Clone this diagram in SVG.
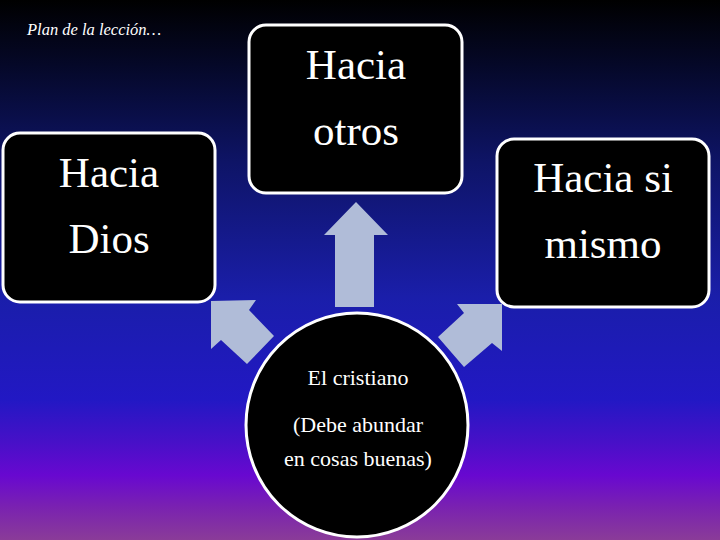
<svg xmlns="http://www.w3.org/2000/svg" width="720" height="540" viewBox="0 0 720 540">
<defs>
<linearGradient id="bg" x1="0" y1="0" x2="0" y2="1">
<stop offset="0" stop-color="#000000"/>
<stop offset="0.12" stop-color="#050828"/>
<stop offset="0.3" stop-color="#0e1466"/>
<stop offset="0.55" stop-color="#1a1eaa"/>
<stop offset="0.74" stop-color="#2218c4"/>
<stop offset="0.82" stop-color="#4810c8"/>
<stop offset="0.88" stop-color="#6808d0"/>
<stop offset="0.94" stop-color="#7a22b0"/>
<stop offset="1" stop-color="#8a3c98"/>
</linearGradient>
<style>
.box{fill:#000;stroke:#fff;stroke-width:3}
.big{font-family:"Liberation Serif","DejaVu Serif",serif;font-size:43px;fill:#fff;text-anchor:middle}
.small{font-family:"Liberation Serif","DejaVu Serif",serif;font-size:22px;fill:#fff;text-anchor:middle}
.arrow{fill:#b0bcd8}
</style>
</defs>
<rect width="720" height="540" fill="url(#bg)"/>
<text x="27" y="35" font-family="Liberation Serif, DejaVu Serif, serif" font-style="italic" font-size="16.5" fill="#fff">Plan de la lección…</text>
<g id="connectors">
<polygon class="arrow" points="356,202 388,235 374,235 374,307 335,307 335,235 324,235"/>
<polygon class="arrow" points="211,301 256,300 249,310 274,336 247,364 221,340 211,349"/>
<polygon class="arrow" points="502,304 457,304 464,313 438,337 464,367 492,343 502,351"/>
</g>
<g id="node-dios">
<rect class="box" x="3" y="133" width="212" height="169" rx="17"/>
<text class="big" x="109" y="187">Hacia</text>
<text class="big" x="109" y="253">Dios</text>
</g>
<g id="node-otros">
<rect class="box" x="249" y="25" width="213" height="168" rx="17"/>
<text class="big" x="356" y="79">Hacia</text>
<text class="big" x="356" y="145">otros</text>
</g>
<g id="node-mismo">
<rect class="box" x="497" y="139" width="212" height="168" rx="17"/>
<text class="big" x="603" y="192">Hacia si</text>
<text class="big" x="603" y="258">mismo</text>
</g>
<g id="node-cristiano">
<ellipse class="box" cx="357" cy="425" rx="111" ry="112"/>
<text class="small" x="358" y="385">El cristiano</text>
<text class="small" x="358" y="432">(Debe abundar</text>
<text class="small" x="358" y="466">en cosas buenas)</text>
</g>
</svg>
